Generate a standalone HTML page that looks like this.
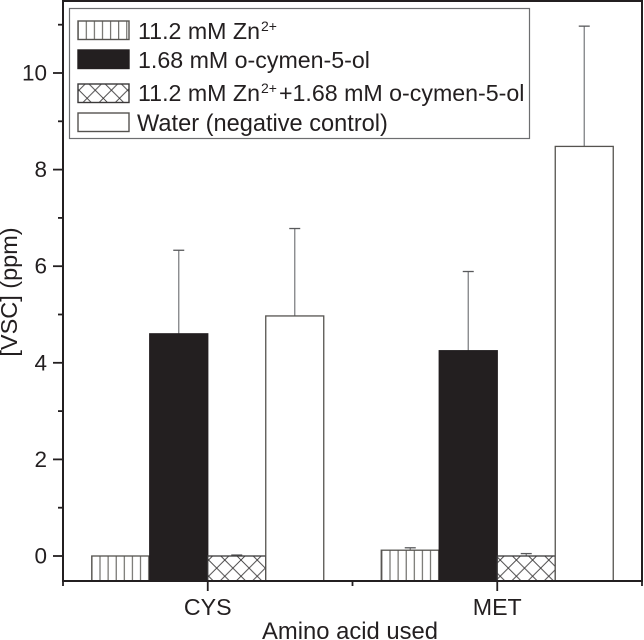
<!DOCTYPE html>
<html>
<head>
<meta charset="utf-8">
<style>
html,body{margin:0;padding:0;background:#fff;}
svg{display:block;font-family:"Liberation Sans",sans-serif;fill:#231f20;}
</style>
</head>
<body>
<svg id="chart" xmlns="http://www.w3.org/2000/svg" width="644" height="640" viewBox="0 0 644 640">
<defs>
<pattern id="hatch-v-legend" patternUnits="userSpaceOnUse" width="8.1" height="10" patternTransform="translate(1.3 0)"><rect width="8.1" height="10" fill="#fff"/><line x1="4" y1="0" x2="4" y2="10" stroke="#55534f" stroke-width="1"/></pattern>
<pattern id="hatch-v-0" patternUnits="userSpaceOnUse" width="8.1" height="10" patternTransform="translate(-1.2 0)"><rect width="8.1" height="10" fill="#fff"/><line x1="4" y1="0" x2="4" y2="10" stroke="#55534f" stroke-width="1"/></pattern>
<pattern id="hatch-v-1" patternUnits="userSpaceOnUse" width="8.1" height="10" patternTransform="translate(-2.8 0)"><rect width="8.1" height="10" fill="#fff"/><line x1="4" y1="0" x2="4" y2="10" stroke="#55534f" stroke-width="1"/></pattern>
<pattern id="hatch-x" patternUnits="userSpaceOnUse" width="16.2" height="16.2" patternTransform="translate(-2 -7)"><rect width="16.2" height="16.2" fill="#fff"/><path d="M0 0L16.2 16.2M16.2 0L0 16.2" stroke="#3a3839" stroke-width="0.9" fill="none"/></pattern>
</defs>
<g id="plot"></g>
<g id="legend">
<rect x="69.5" y="8.5" width="460" height="130" fill="#fff" stroke="#6d6e70" stroke-width="1.2"/>
<g>
<rect x="78" y="21" width="51" height="18.5" fill="url(#hatch-v-legend)" stroke="#55534f" stroke-width="1.4"/>
<text x="138" y="39" font-size="23.2">11.2 mM Zn<tspan font-size="14" dx="1" dy="-8">2+</tspan></text>
</g>
<g>
<rect x="78" y="50" width="51" height="18.5" fill="#231f20" stroke="#231f20" stroke-width="1.4"/>
<text x="138" y="68" font-size="23.2">1.68 mM o-cymen-5-ol</text>
</g>
<g>
<rect x="78" y="84" width="51" height="18.5" fill="url(#hatch-x)" stroke="#3a3839" stroke-width="1.4"/>
<text x="138" y="101" font-size="23.2">11.2 mM Zn<tspan font-size="14" dx="1" dy="-8">2+</tspan><tspan dx="2" dy="8">+1.68 mM o-cymen-5-ol</tspan></text>
</g>
<g>
<rect x="78" y="113" width="51" height="18.5" fill="#fff" stroke="#55534f" stroke-width="1.4"/>
<text x="137" y="131" font-size="23.6">Water (negative control)</text>
</g>
</g>
<script>
const categories = ['CYS', 'MET'];
const seriesNames = ['zn', 'cymenol', 'combined', 'water'];
const zn = [0, 0.12];
const cymenol = [4.6, 4.25];
const combined = [0, 0];
const water = [4.97, 8.48];
const znErrTop = [0, 0.17];
const cymenolErrTop = [6.33, 5.89];
const combinedErrTop = [0.02, 0.05];
const waterErrTop = [6.78, 10.97];
const yTicks = [0, 2, 4, 6, 8, 10];
const yMinorTicks = [1, 3, 5, 7, 9, 11];

const NS = 'http://www.w3.org/2000/svg';
const plot = document.getElementById('plot');
const INK = '#231f20';
const left = 63, right = 642, top_ = 1, bottom = 581;
const yScale = v => 556 - v * 48.3;
const groupW = (right - left) / categories.length;
const xCenter = i => left + groupW * (i + 0.5);
const barW = 58;
const values = [zn, cymenol, combined, water];
const errTops = [znErrTop, cymenolErrTop, combinedErrTop, waterErrTop];
const fills = [c => 'url(#hatch-v-' + c + ')', c => INK, c => 'url(#hatch-x)', c => '#fff'];
const strokes = ['#55534f', INK, '#3a3839', '#55534f'];

function line(x1, y1, x2, y2, stroke, w) {
  const l = document.createElementNS(NS, 'line');
  l.setAttribute('x1', x1);
  l.setAttribute('y1', y1);
  l.setAttribute('x2', x2);
  l.setAttribute('y2', y2);
  l.setAttribute('stroke', stroke);
  l.setAttribute('stroke-width', w);
  return l;
}
function label(str, x, y, anchor) {
  const t = document.createElementNS(NS, 'text');
  t.setAttribute('x', x);
  t.setAttribute('y', y);
  t.setAttribute('text-anchor', anchor);
  t.setAttribute('font-size', '23.2');
  t.textContent = str;
  return t;
}

categories.forEach((cat, c) => {
  values.forEach((vals, s) => {
    const x = xCenter(c) - 2 * barW + s * barW;
    const cx = x + barW / 2;
    const yTop = yScale(vals[c]);
    const yErr = yScale(errTops[s][c]);
    if (errTops[s][c] > vals[c]) {
      const stem = line(cx, yTop, cx, yErr, '#808285', 1.3);
      
      
      plot.appendChild(stem);
      const cap = line(cx - 5.5, yErr, cx + 5.5, yErr, '#58595b', 1.3);
      
      
      plot.appendChild(cap);
    }
    const r = document.createElementNS(NS, 'rect');
    r.setAttribute('x', x);
    r.setAttribute('y', yTop);
    r.setAttribute('width', barW);
    r.setAttribute('height', bottom - yTop);
    r.setAttribute('fill', fills[s](c));
    r.setAttribute('stroke', strokes[s]);
    r.setAttribute('stroke-width', '1.3');
    
    
    plot.appendChild(r);
  });
});

const frame = document.createElementNS(NS, 'rect');
frame.setAttribute('x', left);
frame.setAttribute('y', top_);
frame.setAttribute('width', right - left);
frame.setAttribute('height', bottom - top_);
frame.setAttribute('fill', 'none');
frame.setAttribute('stroke', INK);
frame.setAttribute('stroke-width', '2');


plot.appendChild(frame);

yTicks.forEach(v => {
  const t = line(left - 10, yScale(v), left, yScale(v), INK, 1.8);
  
  
  plot.appendChild(t);
  const lab = label(String(v), left - 16, yScale(v) + 7.5, 'end');
  lab.setAttribute('font-size', '22.5');
  
  
  plot.appendChild(lab);
});
yMinorTicks.forEach(v => {
  const t = line(left - 5, yScale(v), left, yScale(v), INK, 1.8);
  
  
  plot.appendChild(t);
});
categories.forEach((cat, c) => {
  const t = line(xCenter(c), bottom, xCenter(c), bottom + 10, INK, 1.8);
  
  
  plot.appendChild(t);
  const lab = label(cat, xCenter(c), 615, 'middle');
  
  
  plot.appendChild(lab);
});
categories.concat(['end']).forEach((cat, c) => {
  const x = left + groupW * c;
  const t = line(x, bottom, x, bottom + 5, INK, 1.8);
  
  
  plot.appendChild(t);
});

const xTitle = label('Amino acid used', 350, 639, 'middle');
xTitle.setAttribute('font-size', '23.8');


plot.appendChild(xTitle);

const yTitle = label('[VSC] (ppm)', 0, 0, 'middle');
yTitle.setAttribute('font-size', '23.5');
yTitle.setAttribute('transform', 'translate(17 292) rotate(-90)');


plot.appendChild(yTitle);
</script>
</svg>
</body>
</html>
